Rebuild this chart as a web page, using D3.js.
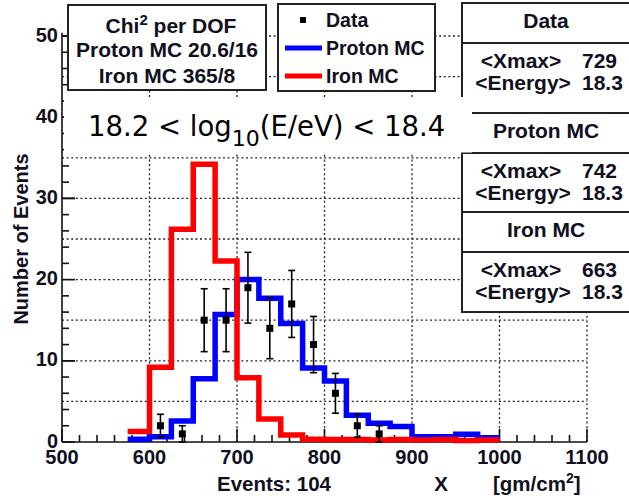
<!DOCTYPE html>
<html>
<head>
<meta charset="utf-8">
<script src="https://cdn.jsdelivr.net/npm/d3@7"></script>
<style>
  html, body { margin: 0; padding: 0; background: #fff; }
  svg { display: block; }
  .b { font-family: "Liberation Sans", Arial, Helvetica, sans-serif; font-weight: bold; fill: #101020; }
</style>
</head>
<body>
<div id="chart"></div>
<script>
// Xmax distribution, 18.2 < log10(E/eV) < 18.4
const binWidth = 25;
const binStarts = [575, 600, 625, 650, 675, 700, 725, 750, 775, 800, 825, 850, 875, 900, 925, 950, 975];
const protonMC = [0.35, 0.65, 2.6, 7.8, 15.7, 20.0, 17.7, 14.6, 9.1, 7.5, 3.3, 2.3, 1.9, 0.65, 0.65, 0.95, 0.53];
const ironMC   = [1.3, 9.2, 26.2, 34.2, 22.3, 7.9, 2.84, 0.86, 0.35, 0.3, 0.3, 0.25, 0.3, 0.25, 0.3, 0.2, 0.25];
const dataX = [612.5, 637.5, 662.5, 687.5, 712.5, 737.5, 762.5, 787.5, 812.5, 837.5, 862.5];
const dataN = [2, 1, 15, 15, 19, 14, 17, 12, 6, 2, 1];

const xTickLabels = [500, 600, 700, 800, 900, 1000, 1100];
const yTickLabels = [0, 10, 20, 30, 40, 50];
const xGrid = [600, 700, 800, 900, 1000, 1100];
const yGrid = [5, 10, 15, 20, 25, 30, 35, 40, 45, 50];

const chiLines = ["Proton MC 20.6/16", "Iron MC 365/8"];
const statBoxes = [
  { title: "Data",      xmax: "729", energy: "18.3" },
  { title: "Proton MC", xmax: "742", energy: "18.3" },
  { title: "Iron MC",   xmax: "663", energy: "18.3" }
];

const W = 629, H = 498;
const svg = d3.select("#chart").append("svg").attr("width", W).attr("height", H);

const x = d3.scaleLinear().domain([500, 1100]).range([62, 587]);
const y = d3.scaleLinear().domain([0, 50]).range([442, 36]);
const yTop = 50.4;

// grid
const grid = svg.append("g").attr("stroke", "#222").attr("stroke-width", 1.3).attr("stroke-dasharray", "2,2.6");
grid.selectAll("line.v").data(xGrid).join("line")
  .attr("x1", d => x(d)).attr("x2", d => x(d)).attr("y1", y(0)).attr("y2", y(yTop));
grid.selectAll("line.h").data(yGrid).join("line")
  .attr("x1", x(500)).attr("x2", x(1100)).attr("y1", d => y(d)).attr("y2", d => y(d));

// axes
const ax = svg.append("g").attr("stroke", "#111").attr("stroke-width", 1.6);
ax.append("line").attr("x1", x(500)).attr("x2", x(1100)).attr("y1", y(0)).attr("y2", y(0));
ax.append("line").attr("x1", x(500)).attr("x2", x(500)).attr("y1", y(0)).attr("y2", y(yTop));
ax.selectAll("line.xt").data(d3.range(500, 1101, 20)).join("line")
  .attr("x1", d => x(d)).attr("x2", d => x(d)).attr("y1", y(0))
  .attr("y2", d => y(0) - (d % 100 === 0 ? 13 : 7));
ax.selectAll("line.yt").data(d3.range(0, 51, 2).concat([10, 30, 50])).join("line")
  .attr("y1", d => y(d)).attr("y2", d => y(d)).attr("x1", x(500))
  .attr("x2", d => x(500) + (d % 10 === 0 ? 13 : 7));

// histograms as step outlines
function stepPoints(vals) {
  const pts = [];
  vals.forEach((v, i) => { pts.push([binStarts[i], v]); pts.push([binStarts[i] + binWidth, v]); });
  return pts;
}
const line = d3.line().x(d => x(d[0])).y(d => y(d[1]));
svg.append("path").attr("d", line(stepPoints(protonMC)))
  .attr("fill", "none").attr("stroke", "#0000ff").attr("stroke-width", 5.5);
svg.append("path").attr("d", line(stepPoints(ironMC)))
  .attr("fill", "none").attr("stroke", "#ff0000").attr("stroke-width", 5.5);

// data points with Poisson error bars
const pts = svg.append("g");
dataX.forEach((cx, i) => {
  const n = dataN[i], e = Math.sqrt(n);
  const g = pts.append("g").attr("stroke", "#000").attr("stroke-width", 1.6);
  g.append("line").attr("x1", x(cx)).attr("x2", x(cx)).attr("y1", y(n - e)).attr("y2", y(n + e));
  [n - e, n + e].forEach(v => g.append("line")
    .attr("x1", x(cx) - 3.5).attr("x2", x(cx) + 3.5).attr("y1", y(v)).attr("y2", y(v)));
  pts.append("rect").attr("x", x(cx) - 3.5).attr("y", y(n) - 3.5).attr("width", 7).attr("height", 7).attr("fill", "#000");
});

// chi2 box
const chi = svg.append("g");
chi.append("rect").attr("x", 68).attr("y", 5).attr("width", 198).attr("height", 85)
  .attr("fill", "#fff").attr("stroke", "#222").attr("stroke-width", 2);
const chiT = chi.append("text").attr("class", "b").attr("x", 171).attr("y", 33)
  .attr("text-anchor", "middle").attr("font-size", 21);
chiT.append("tspan").text("Chi");
chiT.append("tspan").attr("dy", -8).attr("font-size", 15).text("2");
chiT.append("tspan").attr("dy", 8).text(" per DOF");
chiLines.forEach((s, i) => chi.append("text").attr("class", "b").attr("x", 167).attr("y", 57 + i * 26)
  .attr("text-anchor", "middle").attr("font-size", 21).text(s));

// legend
const leg = svg.append("g");
leg.append("rect").attr("x", 278).attr("y", 4).attr("width", 157).attr("height", 87)
  .attr("fill", "#fff").attr("stroke", "#222").attr("stroke-width", 2);
leg.append("rect").attr("x", 300).attr("y", 17).attr("width", 6).attr("height", 6).attr("fill", "#000");
leg.append("line").attr("x1", 285).attr("x2", 322).attr("y1", 48).attr("y2", 48).attr("stroke", "#0000ff").attr("stroke-width", 5);
leg.append("line").attr("x1", 285).attr("x2", 322).attr("y1", 76).attr("y2", 76).attr("stroke", "#ff0000").attr("stroke-width", 5);
[["Data", 27], ["Proton MC", 55], ["Iron MC", 83]].forEach(([s, by]) =>
  leg.append("text").attr("class", "b").attr("x", 326).attr("y", by).attr("font-size", 19.5).text(s));

// statistics boxes
const boxTop = [3, 113, 212];
const boxH = [110, 99, 100];
statBoxes.forEach((b, i) => {
  const g = svg.append("g");
  const t = boxTop[i];
  g.append("rect").attr("x", 462).attr("y", t).attr("width", 200).attr("height", boxH[i])
    .attr("fill", "#fff").attr("stroke", "#222").attr("stroke-width", 2);
  const div = t + 40;
  g.append("line").attr("x1", 462).attr("x2", 640).attr("y1", div).attr("y2", div).attr("stroke", "#222").attr("stroke-width", 2);
  g.append("text").attr("class", "b").attr("x", 546).attr("y", t + 25).attr("text-anchor", "middle").attr("font-size", 21).text(b.title);
  g.append("text").attr("class", "b").attr("x", 521).attr("y", div + 25).attr("text-anchor", "middle").attr("font-size", 21).text("<Xmax>");
  g.append("text").attr("class", "b").attr("x", 582).attr("y", div + 25).attr("font-size", 21).text(b.xmax);
  g.append("text").attr("class", "b").attr("x", 523).attr("y", div + 47).attr("text-anchor", "middle").attr("font-size", 21).text("<Energy>");
  g.append("text").attr("class", "b").attr("x", 582).attr("y", div + 47).attr("font-size", 21).text(b.energy);
});

// energy-range label on a white band
svg.append("rect").attr("x", 64).attr("y", 97).attr("width", 565).attr("height", 15).attr("fill", "#fff");
svg.append("rect").attr("x", 64).attr("y", 97).attr("width", 408).attr("height", 55.5).attr("fill", "#fff");
const rng = svg.append("text").attr("x", 88).attr("y", 136)
  .attr("font-family", "'DejaVu Sans', Verdana, sans-serif").attr("font-size", 27.5).attr("fill", "#000");
rng.append("tspan").text("18.2 < log");
rng.append("tspan").attr("dy", 10).attr("font-size", 22).text("10");
rng.append("tspan").attr("dy", -10).text("(E/eV) < 18.4");

// tick labels
svg.append("g").selectAll("text").data(xTickLabels).join("text").attr("class", "b")
  .attr("x", d => x(d)).attr("y", 464).attr("text-anchor", "middle").attr("font-size", 20).text(d => d);
svg.append("g").selectAll("text").data(yTickLabels).join("text").attr("class", "b")
  .attr("x", 58).attr("y", d => y(d) + 5.5).attr("text-anchor", "end").attr("font-size", 20).text(d => d);

// axis titles
svg.append("text").attr("class", "b").attr("transform", "translate(28,239) rotate(-90)")
  .attr("text-anchor", "middle").attr("font-size", 20).text("Number of Events");
svg.append("text").attr("class", "b").attr("x", 217).attr("y", 491).attr("font-size", 20.5).text("Events: 104");
svg.append("text").attr("class", "b").attr("x", 441).attr("y", 491).attr("text-anchor", "middle").attr("font-size", 20.5).text("X");
const unit = svg.append("text").attr("class", "b").attr("x", 493).attr("y", 491).attr("font-size", 20.5);
unit.append("tspan").text("[gm/cm");
unit.append("tspan").attr("dy", -8).attr("font-size", 14).text("2");
unit.append("tspan").attr("dy", 8).text("]");
</script>
</body>
</html>
